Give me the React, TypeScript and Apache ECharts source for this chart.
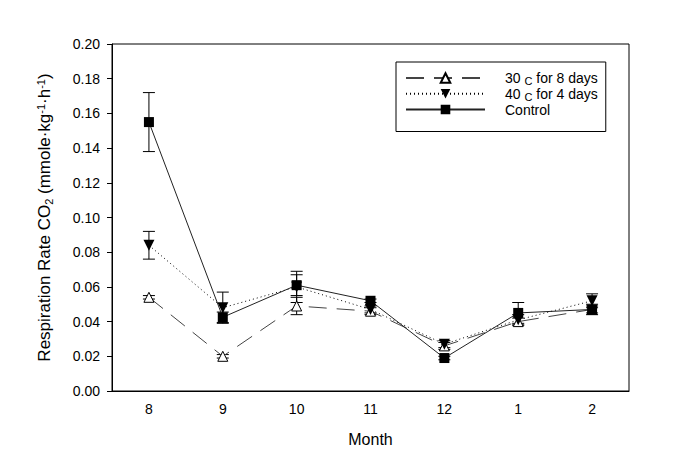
import React, { useEffect, useRef } from "react";
import * as echarts from "echarts";

const months = ["8", "9", "10", "11", "12", "1", "2"];
const t30 = [0.054, 0.02, 0.049, 0.046, 0.026, 0.04, 0.047];
const t30Err = [0.001, 0.001, 0.005, 0.002, 0.002, 0.002, 0.002];
const t40 = [0.084, 0.048, 0.06, 0.047, 0.027, 0.041, 0.052];
const t40Err = [0.008, 0.009, 0.009, 0.002, 0.002, 0.003, 0.004];
const control = [0.155, 0.0425, 0.061, 0.052, 0.019, 0.045, 0.047];
const controlErr = [0.017, 0.003, 0.006, 0.001, 0.001, 0.006, 0.003];
const seriesNames = ["30C for 8 days", "40C for 4 days", "Control"];

const FONT = "Liberation Sans, Arial, sans-serif";

function errSeries(vals: number[], errs: number[]) {
  return {
    type: "custom",
    silent: true,
    z: 3,
    data: vals.map((v, i) => [i, v - errs[i], v + errs[i]]),
    encode: { x: 0, y: [1, 2] },
    renderItem: (params: any, api: any) => {
      const lo = api.coord([api.value(0), api.value(1)]);
      const hi = api.coord([api.value(0), api.value(2)]);
      const w = 6;
      const st = { stroke: "#000", lineWidth: 1 };
      return {
        type: "group",
        children: [
          { type: "line", shape: { x1: hi[0], y1: hi[1], x2: lo[0], y2: lo[1] }, style: st },
          { type: "line", shape: { x1: hi[0] - w, y1: hi[1], x2: hi[0] + w, y2: hi[1] }, style: st },
          { type: "line", shape: { x1: lo[0] - w, y1: lo[1], x2: lo[0] + w, y2: lo[1] }, style: st },
        ],
      };
    },
  };
}

export default function App() {
  const ref = useRef<HTMLDivElement>(null);
  useEffect(() => {
    const chart = echarts.init(ref.current!, null, { renderer: "svg" });
    chart.setOption({
      animation: false,
      textStyle: { fontFamily: FONT },
      grid: { left: 112, top: 44, right: 44, bottom: 74, show: true, borderColor: "#000", borderWidth: 1 },
      legend: {
        orient: "vertical",
        left: 396,
        top: 62,
        data: seriesNames,
        itemWidth: 79,
        itemHeight: 12,
        itemGap: 0,
        padding: [9, 8, 15, 9],
        borderColor: "#000",
        borderWidth: 1,
        backgroundColor: "#fff",
        textStyle: {
          fontFamily: FONT,
          fontSize: 14,
          color: "#000",
          rich: {
            g: { width: 15, lineHeight: 17.5 },
            a: { fontFamily: FONT, fontSize: 14, color: "#000", lineHeight: 17.5 },
            c: { fontFamily: FONT, fontSize: 11, color: "#000", lineHeight: 17.5, verticalAlign: "bottom" },
          },
        },
        formatter: (name: string) => {
          if (name === "Control") return "{g|}{a|Control}";
          const [num, rest] = name.split("C");
          return `{g|}{a|${num} }{c|C}{a|${rest}}`;
        },
      },
      xAxis: {
        type: "category",
        data: months,
        boundaryGap: true,
        name: "Month",
        nameLocation: "middle",
        nameGap: 40,
        nameTextStyle: { fontFamily: FONT, fontSize: 16, color: "#000" },
        axisLine: { lineStyle: { color: "#000", width: 1 } },
        axisTick: { alignWithLabel: true, length: 5, lineStyle: { color: "#000" } },
        axisLabel: { fontFamily: FONT, fontSize: 14, color: "#000", margin: 11 },
        splitLine: { show: false },
      },
      yAxis: {
        type: "value",
        min: 0,
        max: 0.2,
        interval: 0.02,
        name: "Respiration Rate CO{sub|2} (mmole·kg{sup|-1}·h{sup|-1})",
        nameLocation: "middle",
        nameGap: 58,
        nameRotate: 90,
        nameTextStyle: {
          fontFamily: FONT,
          fontSize: 17,
          color: "#000",
          rich: {
            sub: { fontFamily: FONT, fontSize: 11, color: "#000", padding: [8, 0, 0, 0] },
            sup: { fontFamily: FONT, fontSize: 11, color: "#000", padding: [0, 0, 8, 0] },
          },
        },
        axisLine: { show: true, lineStyle: { color: "#000", width: 1 } },
        axisTick: { show: true, length: 5, lineStyle: { color: "#000" } },
        axisLabel: {
          fontFamily: FONT,
          fontSize: 14,
          color: "#000",
          margin: 12,
          formatter: (v: number) => v.toFixed(2),
        },
        splitLine: { show: false },
      },
      series: [
        errSeries(t30, t30Err),
        errSeries(t40, t40Err),
        errSeries(control, controlErr),
        {
          name: seriesNames[0],
          type: "line",
          data: t30,
          z: 4,
          symbol: "triangle",
          symbolSize: 10,
          showAllSymbol: true,
          lineStyle: { color: "#444", width: 1, type: [18, 10] },
          itemStyle: { color: "#fff", borderColor: "#000", borderWidth: 1 },
        },
        {
          name: seriesNames[1],
          type: "line",
          data: t40,
          z: 5,
          symbol: "triangle",
          symbolRotate: 180,
          symbolSize: 11,
          showAllSymbol: true,
          lineStyle: { color: "#000", width: 1, type: [1, 3] },
          itemStyle: { color: "#000", borderColor: "#000", borderWidth: 0 },
        },
        {
          name: seriesNames[2],
          type: "line",
          data: control,
          z: 6,
          symbol: "rect",
          symbolSize: 10,
          showAllSymbol: true,
          lineStyle: { color: "#222", width: 1, type: "solid" },
          itemStyle: { color: "#000", borderColor: "#000", borderWidth: 0 },
        },
      ],
    });
    return () => chart.dispose();
  }, []);
  return <div ref={ref} style={{ width: 673, height: 465, position: "absolute", left: 0, top: 0 }} />;
}
